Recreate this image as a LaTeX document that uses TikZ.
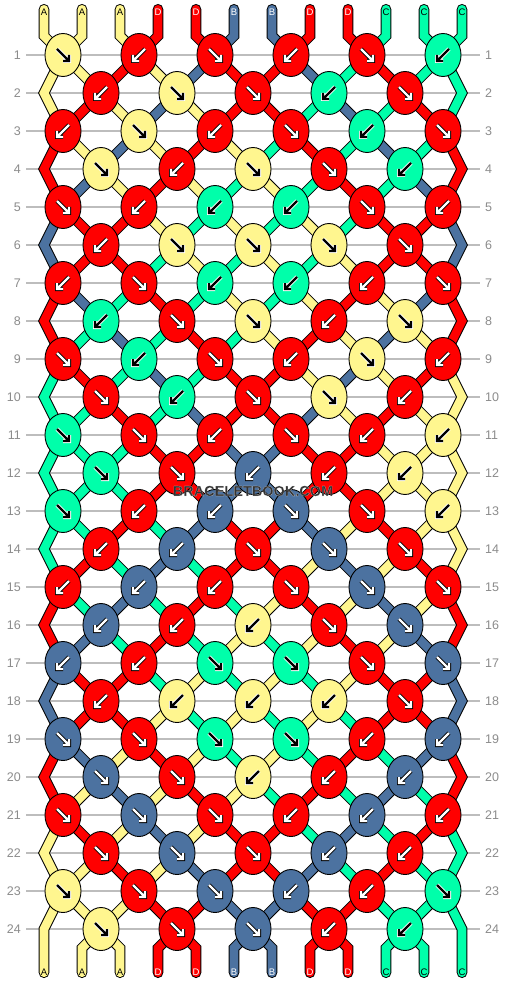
\documentclass[tikz,border=0pt]{standalone}
\usepackage{fontspec}
\setmainfont{Liberation Sans}
\usetikzlibrary{shapes.geometric}
\definecolor{cA}{HTML}{FFF68F}
\definecolor{cB}{HTML}{4C72A0}
\definecolor{cC}{HTML}{00FFAA}
\definecolor{cD}{HTML}{FF0000}
\colorlet{fgA}{black}\colorlet{olA}{white}
\colorlet{fgB}{white}\colorlet{olB}{black}
\colorlet{fgC}{black}\colorlet{olC}{white}
\colorlet{fgD}{white}\colorlet{olD}{black}
\definecolor{rowgray}{HTML}{BDBDBD}
\definecolor{numgray}{HTML}{8C8C8C}
\definecolor{wmgray}{HTML}{333333}
\pgfdeclarelayer{grid}
\pgfdeclarelayer{strings}
\pgfsetlayers{grid,strings,main}
\newcommand{\haloText}[1]{\special{pdf:literal direct 2 Tr 0.07 w 0.9 0.9 0.9 RG}#1\special{pdf:literal direct 0 Tr}}
\tikzset{
  knot/.style={ellipse, draw=black, line width=0.9pt, minimum width=36pt, minimum height=43pt, inner sep=0pt},
  str/.style={draw=black, line width=1pt, double=#1, double distance=8.6pt, line join=miter, line cap=round},
  rowline/.style={draw=rowgray, line width=1.2pt},
  rownum/.style={text=numgray, font=\fontsize{12.5}{14}\selectfont, inner sep=0pt},
  endlab/.style={font=\fontsize{9.5}{11}\selectfont, inner sep=0pt},
  arrO/.style={draw=#1, line width=4pt, line join=miter, line cap=butt},
  arrI/.style={draw=#1, line width=2.4pt, line join=miter, line cap=butt},
  wmark/.style={font=\fontsize{14.5}{16}\bfseries\selectfont, inner sep=0pt, text=wmgray},
}
\begin{document}
\begin{tikzpicture}[x=1pt,y=-1pt]
\useasboundingbox (0,0) rectangle (506,984);
\begin{pgfonlayer}{grid}
  \fill[white] (0,0) rectangle (506,984);
  \foreach \r in {1,...,24} {
    \draw[rowline] (26,{17+38*\r}) -- (480,{17+38*\r});
    \node[rownum, anchor=east] (nl\r) at (21,{17+38*\r}) {\r};
    \node[rownum, anchor=west] (nr\r) at (485,{17+38*\r}) {\r};
  }
\end{pgfonlayer}
% knots
\foreach \r/\ks in {
  1/{A/r,D/l,D/r,D/l,D/r,C/l},
  2/{D/l,A/r,D/r,C/l,D/r},
  3/{D/l,A/r,D/l,D/r,C/l,D/r},
  4/{A/r,D/l,A/r,D/r,C/l},
  5/{D/r,D/l,C/l,C/l,D/r,D/l},
  6/{D/l,A/r,A/r,A/r,D/r},
  7/{D/l,D/r,C/l,C/l,D/l,D/r},
  8/{C/l,D/r,A/r,D/l,A/r},
  9/{D/r,C/l,D/r,D/l,A/r,D/l},
  10/{D/r,C/l,D/r,A/r,D/l},
  11/{C/r,D/r,D/l,D/r,D/l,A/l},
  12/{C/r,D/r,B/l,D/l,A/l},
  13/{C/r,D/l,B/l,B/r,D/r,A/l},
  14/{D/l,B/l,D/r,B/r,D/r},
  15/{D/l,B/l,D/l,D/r,B/r,D/r},
  16/{B/l,D/l,A/l,D/r,B/r},
  17/{B/l,D/l,C/r,C/r,D/r,B/r},
  18/{D/l,A/l,A/l,A/l,D/r},
  19/{B/r,D/r,C/r,C/r,D/l,B/l},
  20/{B/r,D/r,A/l,D/l,B/l},
  21/{D/r,B/r,D/r,D/l,B/l,D/l},
  22/{D/r,B/r,D/r,B/l,D/l},
  23/{A/r,D/r,B/r,B/l,D/l,C/r},
  24/{A/r,D/r,B/r,D/l,C/l}} {
  \pgfmathtruncatemacro\off{38*mod(\r+1,2)}
  \foreach \c/\d [count=\k from 0] in \ks {
    \node[knot, fill=c\c] (k\r-\k) at ({63+\off+76*\k},{17+38*\r}) {};
    \if\d r
      \draw[arrO=ol\c] (k\r-\k.center) ++(-6,-6) -- ++(12,12) ++(0,-6) -- ++(0,6) -- ++(-6,0);
      \draw[arrI=fg\c] (k\r-\k.center) ++(-6,-6) -- ++(12,12) ++(0,-6) -- ++(0,6) -- ++(-6,0);
    \else
      \draw[arrO=ol\c] (k\r-\k.center) ++(6,-6) -- ++(-12,12) ++(0,-6) -- ++(0,6) -- ++(6,0);
      \draw[arrI=fg\c] (k\r-\k.center) ++(6,-6) -- ++(-12,12) ++(0,-6) -- ++(0,6) -- ++(6,0);
    \fi
  }
}
% strings
\begin{pgfonlayer}{strings}
  \foreach \r/\cols in {
    1/{A,A,D,A,B,D,D,B,C,D,C,C},
    2/{A,D,A,B,A,D,D,C,B,C,D,C},
    3/{D,A,B,A,D,A,C,D,C,B,C,D},
    4/{D,B,A,D,A,C,A,C,D,C,B,D},
    5/{B,D,D,A,C,A,C,A,C,D,D,B},
    6/{B,D,D,C,A,C,A,C,A,D,D,B},
    7/{D,B,C,D,C,A,C,A,D,A,B,D},
    8/{D,C,B,C,D,C,A,D,A,B,A,D},
    9/{C,D,C,B,C,D,D,A,B,A,D,A},
    10/{C,C,D,C,B,D,D,B,A,D,A,A},
    11/{C,C,C,D,D,B,B,D,D,A,A,A},
    12/{C,C,C,D,D,B,B,D,D,A,A,A},
    13/{C,C,D,C,B,D,D,B,A,D,A,A},
    14/{C,D,C,B,C,D,D,A,B,A,D,A},
    15/{D,C,B,C,D,C,A,D,A,B,A,D},
    16/{D,B,C,D,C,A,C,A,D,A,B,D},
    17/{B,D,D,C,A,C,A,C,A,D,D,B},
    18/{B,D,D,A,C,A,C,A,C,D,D,B},
    19/{D,B,A,D,A,C,A,C,D,C,B,D},
    20/{D,A,B,A,D,A,C,D,C,B,C,D},
    21/{A,D,A,B,A,D,D,C,B,C,D,C},
    22/{A,A,D,A,B,D,D,B,C,D,C,C},
    23/{A,A,A,D,D,B,B,D,D,C,C,C}} {
    \pgfmathtruncatemacro\rr{\r+1}
    \pgfmathtruncatemacro\er{mod(\r+1,2)}
    \pgfmathtruncatemacro\ern{1-\er}
    \foreach \c [count=\q from 0] in \cols {
      \ifnum\q>0 \ifnum\q<11
        \pgfmathtruncatemacro\ka{floor((\q-\er)/2)}
        \pgfmathtruncatemacro\kb{floor((\q-\ern)/2)}
        \draw[str=c\c] (k\r-\ka.center) -- (k\rr-\kb.center);
      \fi\fi
    }
  }
  % side zigzags
  \foreach \r/\cl/\cr in {2/A/C,4/D/D,6/B/B,8/D/D,10/C/A,12/C/A,14/C/A,16/D/D,18/B/B,20/D/D,22/A/C} {
    \pgfmathtruncatemacro\ra{\r-1}
    \pgfmathtruncatemacro\rb{\r+1}
    \coordinate (eL\r) at (44,{17+38*\r});
    \coordinate (eR\r) at (462,{17+38*\r});
    \draw[str=c\cl] (k\ra-0.center) -- (eL\r) -- (k\rb-0.center);
    \draw[str=c\cr] (k\ra-5.center) -- (eR\r) -- (k\rb-5.center);
  }
  % top ends
  \foreach \c [count=\p from 0] in {A,A,A,D,D,B,B,D,D,C,C,C} {
    \pgfmathtruncatemacro\k{floor(\p/2)}
    \coordinate (tE\p) at ({44+38*\p},9.25);
    \coordinate (tB\p) at ({44+38*\p},36);
    \draw[str=c\c] (tE\p) -- (tB\p) -- (k1-\k.center);
  }
  % bottom ends
  \coordinate (eL24) at (44,929);
  \coordinate (eR24) at (462,929);
  \coordinate (bE0) at (44,972.75);
  \coordinate (bE11) at (462,972.75);
  \draw[str=cA] (k23-0.center) -- (eL24) -- (bE0);
  \draw[str=cC] (k23-5.center) -- (eR24) -- (bE11);
  \foreach \c [count=\p from 1] in {A,A,D,D,B,B,D,D,C,C} {
    \pgfmathtruncatemacro\k{floor((\p-1)/2)}
    \coordinate (bB\p) at ({44+38*\p},948);
    \coordinate (bE\p) at ({44+38*\p},972.75);
    \draw[str=c\c] (k24-\k.center) -- (bB\p) -- (bE\p);
  }
\end{pgfonlayer}
% end labels
\foreach \c [count=\p from 0] in {A,A,A,D,D,B,B,D,D,C,C,C} {
  \node[endlab, text=fg\c] (lt\p) at ({44+38*\p},12.5) {\c};
  \node[endlab, text=fg\c] (lb\p) at ({44+38*\p},972.5) {\c};
}
% watermark (dark text with a light outline)
\node[wmark] (wm) at (253,491) {\haloText{BRACELETBOOK.COM}};
\end{tikzpicture}
\end{document}
